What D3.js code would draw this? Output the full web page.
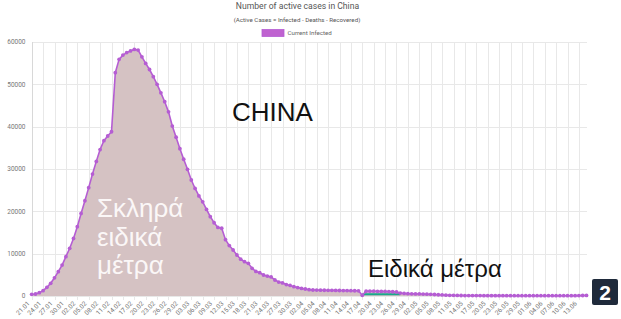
<!DOCTYPE html>
<html>
<head>
<meta charset="utf-8">
<title>Active cases in China</title>
<script src="https://cdn.jsdelivr.net/npm/d3@7"></script>
<style>
  body { margin: 0; padding: 0; background: #fff; }
  svg { display: block; font-family: Roboto, "Liberation Sans", sans-serif; }
  .grid line { stroke: #e8e8e8; stroke-width: 1; shape-rendering: crispEdges; }
  .tick-label { fill: #777; font-size: 6.5px; }
  .big { font-family: "Liberation Sans", Arial, sans-serif; }
</style>
</head>
<body>
<div id="chart"></div>
<script>
// first and last day of the series (one point per day)
var startDate = new Date(2020, 0, 21);
var endDate = new Date(2020, 5, 15);

// active cases (infected - deaths - recovered), 21.01 .. 15.06
var activeCases = [
  400, 470, 780, 1250, 2050, 3000, 4300, 5750, 7300, 9300,
  11270, 13600, 16370, 19500, 22500, 25600, 28800, 31800, 34600, 36700,
  37800, 38800, 52750, 55900, 56900, 57500, 57900, 58250, 58100, 56500,
  54950, 53500, 51800, 50000, 48000, 45900, 43500, 40150, 37500, 34800,
  32300, 29930, 27400, 25400, 23650, 22250, 20450, 18750, 17300, 16200,
  16000, 13300, 11900, 10870, 9690, 8700, 8100, 7720, 6540, 5800,
  5500, 4960, 4700, 4500, 3780, 3300, 3100, 2700, 2500, 2200,
  2000, 1800, 1650, 1500, 1420, 1400, 1380, 1360, 1340, 1330,
  1320, 1300, 1290, 1270, 1250, 1240, 1230, 150, 1150, 1140,
  1130, 1110, 1090, 1070, 1050, 1000, 950, 700, 600, 550,
  520, 500, 480, 460, 430, 400, 350, 300, 250, 200,
  170, 150, 130, 120, 110, 100, 95, 90, 90, 85,
  85, 80, 80, 80, 80, 75, 75, 75, 70, 70,
  70, 70, 70, 70, 70, 65, 65, 65, 65, 65,
  65, 65, 70, 80, 100, 120, 140
];

// short teal segment visible under the line after 17.04 (day index, value)
var tealIndex = [87, 88, 89, 90, 91, 92, 93, 94, 95, 96, 97];
var tealCases = [420, 430, 430, 425, 425, 420, 420, 415, 415, 410, 410];

var yTicks = [0, 10000, 20000, 30000, 40000, 50000, 60000];
var labelStep = 3; // an x label every 3 days

var W = 621, H = 319;
var plot = {left: 31.7, right: 586.5, top: 42, bottom: 296};

var days = d3.timeDay.range(startDate, d3.timeDay.offset(endDate, 1));
var fmt = d3.timeFormat("%d.%m");

var svg = d3.select("#chart").append("svg")
  .attr("width", W).attr("height", H);

var x = d3.scaleLinear().domain([0, days.length - 1]).range([plot.left, plot.right]);
var y = d3.scaleLinear().domain([0, 60000]).range([plot.bottom, plot.top]);

// grid
var grid = svg.append("g").attr("class", "grid");
grid.selectAll(".h").data(yTicks).enter().append("line")
  .attr("x1", plot.left).attr("x2", plot.right)
  .attr("y1", function(d) { return Math.round(y(d)) + 0.5; })
  .attr("y2", function(d) { return Math.round(y(d)) + 0.5; });

var xTickIdx = d3.range(0, days.length, labelStep);
grid.selectAll(".v").data(xTickIdx).enter().append("line")
  .attr("x1", function(d) { return Math.round(x(d)) + 0.5; })
  .attr("x2", function(d) { return Math.round(x(d)) + 0.5; })
  .attr("y1", plot.top).attr("y2", plot.bottom + 4);

// y axis line
svg.append("line")
  .attr("x1", Math.round(plot.left) + 0.5).attr("x2", Math.round(plot.left) + 0.5)
  .attr("y1", plot.top).attr("y2", plot.bottom)
  .attr("stroke", "#d8d8d8").attr("shape-rendering", "crispEdges");

// y labels
svg.selectAll(".ylab").data(yTicks).enter().append("text")
  .attr("class", "tick-label")
  .attr("x", 25.5).attr("y", function(d) { return y(d); })
  .attr("dy", "0.35em").attr("text-anchor", "end")
  .text(function(d) { return d; });

// x labels, rotated
svg.selectAll(".xlab").data(xTickIdx).enter().append("text")
  .attr("class", "tick-label")
  .attr("font-size", "6.2px")
  .attr("text-anchor", "end")
  .attr("transform", function(d) { return "translate(" + (x(d) - 1.5) + "," + (plot.bottom + 8) + ") rotate(-45)"; })
  .text(function(d) { return fmt(days[d]); });

// area + line
var area = d3.area()
  .x(function(d, i) { return x(i); })
  .y0(plot.bottom)
  .y1(function(d) { return y(d); });
var line = d3.line()
  .x(function(d, i) { return x(i); })
  .y(function(d) { return y(d); });

svg.append("path").datum(activeCases)
  .attr("d", area).attr("fill", "#d5c2c3");

svg.append("path")
  .datum(tealIndex.map(function(d, i) { return [d, tealCases[i]]; }))
  .attr("d", d3.line().x(function(d) { return x(d[0]); }).y(function(d) { return y(d[1]); }))
  .attr("fill", "none").attr("stroke", "#1aa88c").attr("stroke-width", 2);

svg.append("path").datum(activeCases)
  .attr("d", line).attr("fill", "none")
  .attr("stroke", "#b55dd3").attr("stroke-width", 1.6);

svg.selectAll(".pt").data(activeCases).enter().append("circle")
  .attr("cx", function(d, i) { return x(i); })
  .attr("cy", function(d) { return y(d); })
  .attr("r", 1.9).attr("fill", "#b55dd3");

// title, subtitle, legend
svg.append("text").attr("x", 297.5).attr("y", 9).attr("text-anchor", "middle")
  .attr("font-size", "8.6px").attr("fill", "#555")
  .text("Number of active cases in China");
svg.append("text").attr("x", 297).attr("y", 21.5).attr("text-anchor", "middle")
  .attr("font-size", "6.2px").attr("fill", "#555")
  .text("(Active Cases = Infected - Deaths - Recovered)");
svg.append("rect").attr("x", 262).attr("y", 29.5).attr("width", 22).attr("height", 7)
  .attr("fill", "#bf62d0").attr("stroke", "#b55dd3").attr("stroke-width", 0.8);
svg.append("text").attr("x", 287.5).attr("y", 35.3)
  .attr("font-size", "6.2px").attr("fill", "#666")
  .text("Current Infected");

// annotations
svg.append("text").attr("class", "big").attr("x", 232).attr("y", 120.5)
  .attr("font-size", "26px").attr("fill", "#111").text("CHINA");

var hard = ["Σκληρά", "ειδικά", "μέτρα"];
svg.selectAll(".hard").data(hard).enter().append("text")
  .attr("class", "big").attr("x", 97)
  .attr("y", function(d, i) { return 217 + i * 28.5; })
  .attr("font-size", "26px").attr("fill", "#fbf7f7")
  .text(function(d) { return d; });

svg.append("text").attr("class", "big").attr("x", 368).attr("y", 277)
  .attr("font-size", "24px").attr("fill", "#111").text("Ειδικά μέτρα");

// slide number badge
svg.append("rect").attr("x", 592).attr("y", 279).attr("width", 26).attr("height", 26)
  .attr("rx", 2).attr("fill", "#1f2a3b");
svg.append("text").attr("class", "big").attr("x", 605).attr("y", 299.5)
  .attr("text-anchor", "middle").attr("font-size", "21px").attr("font-weight", "bold")
  .attr("fill", "#fff").text("2");
</script>
</body>
</html>
